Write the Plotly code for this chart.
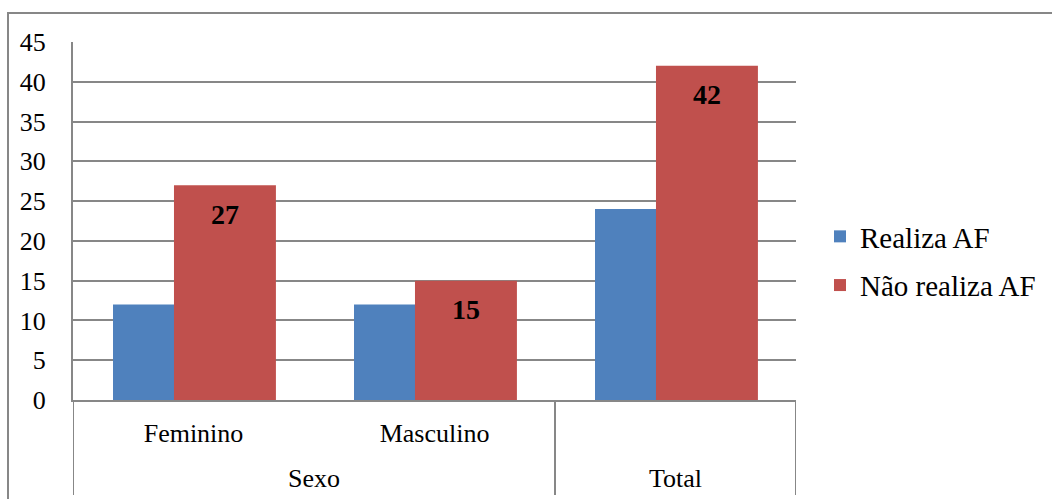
import plotly.graph_objects as go

# ---- data ----
inner_labels = ["Feminino", "Masculino", ""]
outer_labels = ["Sexo", "Total"]
outer_spans = [(0, 1), (2, 2)]  # category index ranges of outer groups
series_names = ["Realiza AF", "Não realiza AF"]
realiza = [12, 12, 24]
nao_realiza = [27, 15, 42]
colors = ["#4F81BD", "#C0504D"]
y_ticks = [0, 5, 10, 15, 20, 25, 30, 35, 40, 45]

W, H = 1052, 499
ML, MR, MT, MB = 73, 256, 42, 99
PW = W - ML - MR
PH = H - MT - MB
FONT = "Times New Roman"
GRID = "#878787"

xs = list(range(len(inner_labels)))
bar_w = 0.423
offsets = [-0.334, -0.081]

fig = go.Figure()
for name, vals, col, off in zip(series_names, [realiza, nao_realiza], colors, offsets):
    fig.add_trace(go.Bar(
        x=xs, y=vals, name=name, marker=dict(color=col, line=dict(width=0)),
        width=bar_w, offset=off, legendgroup=name,
    ))

# data labels on the red series
for x, v in zip(xs, nao_realiza):
    fig.add_annotation(x=x + offsets[1] + bar_w / 2, y=v, xref="x", yref="y",
                       text=f"<b>{v}</b>", showarrow=False, yanchor="middle",
                       yshift=-29, font=dict(family=FONT, size=28, color="black"))

# outer category labels
for lab, (a, b) in zip(outer_labels, outer_spans):
    fig.add_annotation(x=(a + b) / 2, y=-78 / PH, xref="x", yref="paper",
                       text=lab, showarrow=False, yanchor="middle",
                       font=dict(family=FONT, size=26, color="black"))

# category dividers (left edge, between groups, right edge)
bottom = -95 / PH
for xd in [-0.5, 1.5, 2.5]:
    fig.add_shape(type="line", xref="x", yref="paper", x0=xd, x1=xd, y0=0, y1=bottom,
                  line=dict(color=GRID, width=2))

# outer chart frame
fig.add_shape(type="rect", xref="paper", yref="paper",
              x0=(8 - ML) / PW, x1=(W + 20 - ML) / PW,
              y0=-(H + 20 - MT - PH) / PH, y1=(H - MB - 13) / PH,
              line=dict(color=GRID, width=2), fillcolor="rgba(0,0,0,0)", layer="below")

fig.update_layout(
    width=W, height=H,
    margin=dict(l=ML, r=MR, t=MT, b=MB, autoexpand=False),
    paper_bgcolor="white", plot_bgcolor="white",
    barmode="overlay",
    font=dict(family=FONT, size=26, color="black"),
    showlegend=True,
    legend=dict(x=(820 - ML) / PW, xanchor="left", y=(H - MB - 261) / PH, yanchor="middle",
                font=dict(family=FONT, size=29, color="black"),
                tracegroupgap=8, bgcolor="rgba(0,0,0,0)"),
    xaxis=dict(range=[-0.5, 2.5], tickvals=xs, ticktext=inner_labels, ticks="",
               showgrid=False, zeroline=False, showline=True, linecolor=GRID, linewidth=2,
               ticklabelstandoff=9, tickfont=dict(family=FONT, size=26)),
    yaxis=dict(range=[0, 45], tickvals=y_ticks, ticks="", showgrid=True, gridcolor=GRID,
               gridwidth=1.5, zeroline=False, showline=True, linecolor=GRID, linewidth=2,
               ticklabelstandoff=20, tickfont=dict(family=FONT, size=26)),
)
fig.write_html("out.html")
